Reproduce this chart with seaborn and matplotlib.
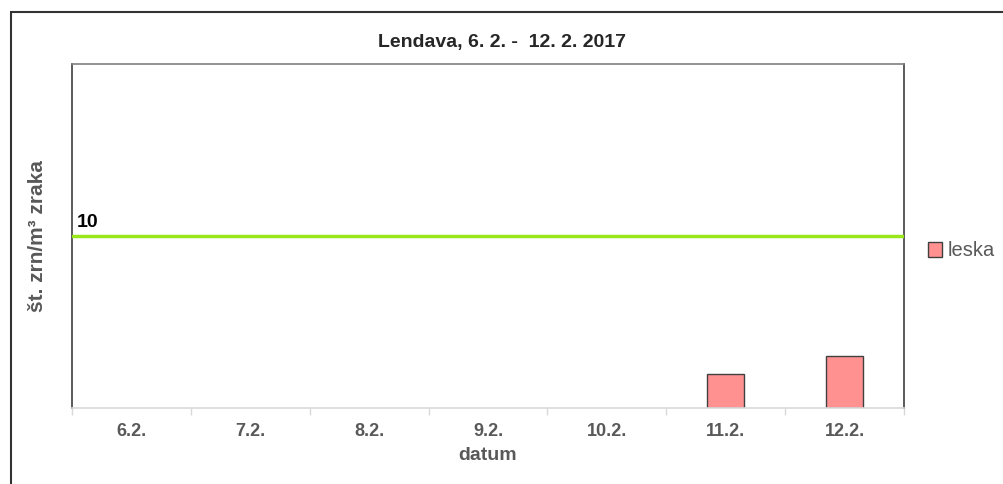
import matplotlib.pyplot as plt
import matplotlib.patches as mpatches
import matplotlib.transforms as mtransforms
import seaborn as sns
import pandas as pd

# podatki
dates = ['6.2.', '7.2.', '8.2.', '9.2.', '10.2.', '11.2.', '12.2.']
leska = [0, 0, 0, 0, 0, 2, 3]
threshold = 10
y_max = 20

title = 'Lendava, 6. 2. -  12. 2. 2017'
bar_color = '#ff9191'
line_color = '#99e619'
text_gray = '#595959'

df = pd.DataFrame({'datum': dates, 'leska': leska})

sns.set_style('white')
plt.rcParams['font.family'] = ['Liberation Sans', 'DejaVu Sans']

fig = plt.figure(figsize=(10.04, 4.84), dpi=100)
ax = fig.add_axes([72 / 1004, 1 - 408 / 484, 832 / 1004, 344 / 484])

sns.barplot(data=df, x='datum', y='leska', color=bar_color, width=0.31,
            edgecolor='#404040', linewidth=1, saturation=1, ax=ax)
for p in ax.patches:
    if p.get_height() == 0:
        p.set_visible(False)

ax.axhline(threshold, color=line_color, linewidth=2.5, zorder=3)
trans = mtransforms.blended_transform_factory(ax.transAxes, ax.transData)
ax.text(0.006, threshold + 0.3, str(threshold), transform=trans, fontsize=14,
        fontweight='bold', color='black', ha='left', va='bottom')

ax.set_xlim(-0.5, len(dates) - 0.5)
ax.set_ylim(0, y_max)
ax.set_yticks([])
ax.set_xticks([i - 0.5 for i in range(len(dates) + 1)], minor=True)
ax.tick_params(axis='x', which='minor', length=5, color='#d9d9d9', width=1,
               direction='out', bottom=True)
ax.tick_params(axis='x', which='major', length=0, pad=11,
               labelsize=13, labelcolor=text_gray)
for lbl in ax.get_xticklabels():
    lbl.set_fontweight('bold')

for side in ['left', 'right']:
    ax.spines[side].set_color('#404040')
    ax.spines[side].set_linewidth(1.2)
ax.spines['top'].set_color('#808080')
ax.spines['top'].set_linewidth(1.2)
ax.spines['bottom'].set_color('#d9d9d9')
ax.spines['bottom'].set_linewidth(1.2)

ax.set_xlabel('datum', fontsize=14, fontweight='bold', color=text_gray, labelpad=5)
ax.set_ylabel('št. zrn/m³ zraka', fontsize=15, fontweight='bold', color=text_gray,
              labelpad=18)

fig.text(0.5, 1 - 42 / 484, title, ha='center', va='center', fontsize=14,
         fontweight='bold', family=['Liberation Sans Narrow', 'Liberation Sans'])

handle = mpatches.Patch(facecolor=bar_color, edgecolor='#404040', label='leska')
fig.legend(handles=[handle], loc='center left', bbox_to_anchor=(910 / 1004, 1 - 251 / 484),
           frameon=False, fontsize=14.5, handlelength=0.7, handleheight=0.7,
           handletextpad=0.25, labelcolor=text_gray)

# okvir slike
frame = mpatches.Rectangle((11 / 1004, -0.1), 1.2, 1 - 12 / 484 + 0.1,
                           transform=fig.transFigure, fill=False,
                           edgecolor='#333333', linewidth=1.5)
fig.patches.append(frame)

fig.savefig('out.png', dpi=100)
plt.close(fig)
